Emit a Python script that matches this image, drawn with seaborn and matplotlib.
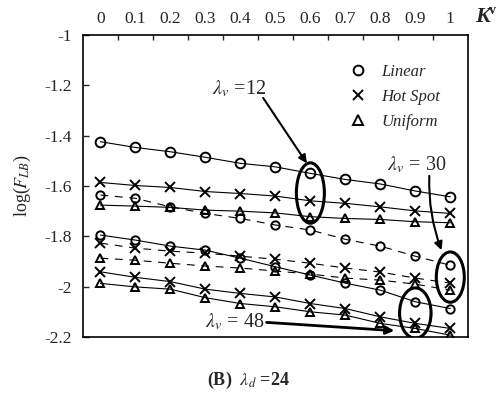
import numpy as np
import pandas as pd
import seaborn as sns
import matplotlib
matplotlib.use("Agg")
import matplotlib.pyplot as plt
from matplotlib.patches import Ellipse
from matplotlib.lines import Line2D

# ---------------- data ----------------
K = [0.0, 0.1, 0.2, 0.3, 0.4, 0.5, 0.6, 0.7, 0.8, 0.9, 1.0]
x_ticklabels = ["0", "0.1", "0.2", "0.3", "0.4", "0.5", "0.6", "0.7", "0.8", "0.9", "1"]
y_ticks = [-1.0, -1.2, -1.4, -1.6, -1.8, -2.0, -2.2]
y_ticklabels = ["-1", "-1.2", "-1.4", "-1.6", "-1.8", "-2", "-2.2"]

lin12 = [-1.424, -1.447, -1.464, -1.486, -1.510, -1.524, -1.550, -1.574, -1.592, -1.620, -1.643]
hot12 = [-1.586, -1.598, -1.606, -1.622, -1.630, -1.640, -1.659, -1.669, -1.683, -1.699, -1.709]
uni12 = [-1.676, -1.680, -1.685, -1.696, -1.700, -1.707, -1.722, -1.729, -1.733, -1.742, -1.746]
lin30 = [-1.636, -1.649, -1.683, -1.709, -1.729, -1.755, -1.775, -1.812, -1.839, -1.879, -1.915]
hot30 = [-1.827, -1.847, -1.859, -1.867, -1.879, -1.891, -1.907, -1.926, -1.942, -1.966, -1.986]
uni30 = [-1.887, -1.895, -1.907, -1.918, -1.926, -1.938, -1.950, -1.966, -1.974, -1.990, -2.014]
lin48 = [-1.795, -1.815, -1.839, -1.855, -1.887, -1.921, -1.954, -1.986, -2.014, -2.060, -2.087]
hot48 = [-1.941, -1.963, -1.980, -2.010, -2.027, -2.041, -2.067, -2.087, -2.120, -2.146, -2.166]
uni48 = [-1.987, -2.001, -2.010, -2.044, -2.067, -2.080, -2.100, -2.113, -2.146, -2.166, -2.193]

types = ["Linear", "Hot Spot", "Uniform"]
lambdas = [12, 30, 48]
series = {
    (12, "Linear"): lin12, (12, "Hot Spot"): hot12, (12, "Uniform"): uni12,
    (30, "Linear"): lin30, (30, "Hot Spot"): hot30, (30, "Uniform"): uni30,
    (48, "Linear"): lin48, (48, "Hot Spot"): hot48, (48, "Uniform"): uni48,
}

rows = []
for (lam, typ), vals in series.items():
    for k, v in zip(K, vals):
        rows.append({"K": k, "logF": v, "lam": lam, "type": typ})
df = pd.DataFrame(rows)

# ---------------- style ----------------
sns.set_style("white")
plt.rcParams["font.family"] = ["Liberation Serif", "DejaVu Serif"]
plt.rcParams["mathtext.fontset"] = "stix"

fig = plt.figure(figsize=(5.03, 3.94), dpi=100)
ax = fig.add_axes([0.165, 0.1447, 0.765, 0.7665])

marker_of = {"Linear": "o", "Hot Spot": "x", "Uniform": "^"}
msize_of = {"Linear": 6.0, "Hot Spot": 7.5, "Uniform": 6.0}
ls_of = {12: "-", 30: (0, (7, 6)), 48: "-"}

for lam in lambdas:
    for typ in types:
        sub = df[(df["lam"] == lam) & (df["type"] == typ)]
        ms = 7 if (lam == 12 and typ == "Linear") else msize_of[typ]
        sns.lineplot(data=sub, x="K", y="logF", ax=ax, color="black",
                     linewidth=0.8, linestyle=ls_of[lam], marker=marker_of[typ],
                     markersize=ms, markerfacecolor="none", markeredgecolor="black",
                     markeredgewidth=1.4, legend=False, errorbar=None)

ax.set_xlim(-0.05, 1.05)
ax.set_ylim(-2.2, -1.0)

# top category-like axis
ax.xaxis.tick_top()
ax.set_xticks(K)
ax.set_xticklabels(x_ticklabels, fontsize=12.5)
ax.set_xticks([-0.05 + 0.1 * i for i in range(1, 11)], minor=True)
ax.tick_params(axis="x", which="major", length=0, pad=6, top=True, bottom=False)
ax.tick_params(axis="x", which="minor", length=3.5, direction="in", top=True, bottom=False, width=1)
ax.set_yticks(y_ticks)
ax.set_yticklabels(y_ticklabels, fontsize=12.5)
ax.tick_params(axis="y", which="major", length=4, direction="in", left=True, width=1, pad=8)
ax.set_xlabel("")
ax.set_ylabel(r"log($F_{LB}$)", fontsize=13, labelpad=8)

for s in ax.spines.values():
    s.set_visible(True)
    s.set_color("black")
    s.set_linewidth(1.2)

# legend
handles = [Line2D([], [], color="black", marker=marker_of[t], linestyle="none",
                  markerfacecolor="none", markeredgewidth=1.4, markersize=7) for t in types]
leg = ax.legend(handles, types, loc="upper right", bbox_to_anchor=(0.968, 0.955),
                frameon=False, handlelength=1.0, handletextpad=0.9, labelspacing=0.55,
                prop={"family": "Liberation Serif", "style": "italic", "size": 12})

# ellipses
for (cx, cy, w, h) in [(0.6, -1.628, 0.08, 0.24), (1.0, -1.962, 0.08, 0.20), (0.9, -2.105, 0.09, 0.20)]:
    ax.add_patch(Ellipse((cx, cy), w, h, fill=False, edgecolor="black", linewidth=2.2, zorder=5))

# annotations
arrow = dict(arrowstyle="-|>", color="black", lw=1.5, shrinkA=0, shrinkB=0, mutation_scale=12)
ax.text(0.32, -1.215, r"$\lambda_v$ =12", fontsize=14.5, va="center", ha="left")
ax.annotate("", xy=(0.59, -1.51), xytext=(0.465, -1.25), arrowprops=arrow)
ax.text(0.82, -1.515, r"$\lambda_v$ = 30", fontsize=14.5, va="center", ha="left")
ax.annotate("", xy=(0.975, -1.855), xytext=(0.94, -1.56),
            arrowprops=dict(arrow, connectionstyle="arc3,rad=0.1"))
ax.text(0.30, -2.14, r"$\lambda_v$ = 48", fontsize=14.5, va="center", ha="left")
ax.annotate("", xy=(0.84, -2.175), xytext=(0.475, -2.142),
            arrowprops=dict(arrow, lw=2.0))

# K^v axis title
fig.text(475 / 503, 1 - 17 / 394, "K", fontsize=16, fontstyle="italic", fontweight="bold",
         ha="left", va="center")
fig.text(489 / 503, 1 - 11 / 394, "v", fontsize=10, fontweight="bold", ha="left", va="center")

# caption
fig.text(248 / 503, 1 - 380 / 394, r"(B)  $\lambda_d$ =24",
         fontsize=13, fontweight="bold", ha="center", va="center")

fig.savefig("out.png", dpi=100)
